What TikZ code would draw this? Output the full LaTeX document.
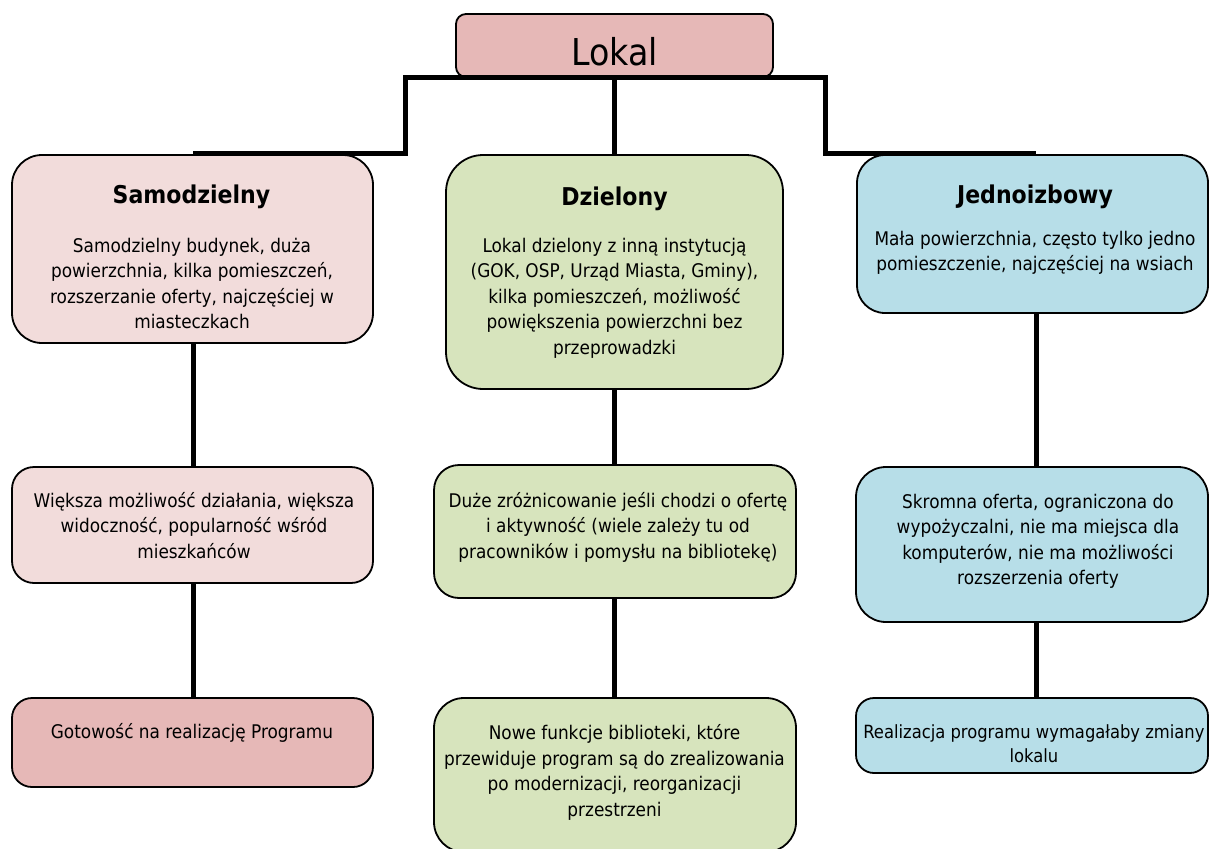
\documentclass[tikz,border=0pt]{standalone}
\usepackage{fontspec}
\setmainfont{DejaVu Sans Condensed}
\usetikzlibrary{calc}
\definecolor{RoseFonce}{HTML}{E6B8B7}
\definecolor{RoseClair}{HTML}{F2DCDB}
\definecolor{VertClair}{HTML}{D7E4BD}
\definecolor{BleuClair}{HTML}{B7DEE8}

\begin{document}
\begin{tikzpicture}[x=1pt,y=-1pt,
    boite/.style={draw=black, line width=1.8pt, inner sep=0pt, outer sep=0pt},
    lien/.style={line width=5pt, line join=miter},
    texte/.style={inner sep=0pt, anchor=north, align=center, font=\fontsize{18.8}{25.5}\selectfont},
    titre/.style={inner sep=0pt, anchor=base, font=\bfseries\fontsize{24.5}{28}\selectfont}]

\useasboundingbox (0,0) rectangle (1209,848);

%colonnes des liens
\coordinate (cS) at (193,0);
\coordinate (cD) at (614.5,0);
\coordinate (cJ) at (1036,0);
\coordinate (bG) at (405,78);
\coordinate (bD) at (825,78);

%début des boîtes
    %sommet
    \node[boite, fill=RoseFonce, rounded corners=10pt, minimum width=317pt, minimum height=63pt] (L) at (614.5,45.5) {};
    %premier niveau
    \node[boite, fill=RoseClair, rounded corners=30pt, minimum width=361pt, minimum height=188pt] (S) at (192.5,249) {};
    \node[boite, fill=VertClair, rounded corners=37pt, minimum width=337pt, minimum height=234pt] (D) at (614.5,272) {};
    \node[boite, fill=BleuClair, rounded corners=28pt, minimum width=351pt, minimum height=158pt] (J) at (1032.5,234) {};
    %deuxième niveau
    \node[boite, fill=RoseClair, rounded corners=22pt, minimum width=361pt, minimum height=116pt] (S2) at (192.5,525) {};
    \node[boite, fill=VertClair, rounded corners=25pt, minimum width=362pt, minimum height=133pt] (D2) at (615,531.5) {};
    \node[boite, fill=BleuClair, rounded corners=30pt, minimum width=352pt, minimum height=155pt] (J2) at (1032,544.5) {};
    %troisième niveau
    \node[boite, fill=RoseFonce, rounded corners=20pt, minimum width=361pt, minimum height=89pt] (S3) at (192.5,742.5) {};
    \node[boite, fill=VertClair, rounded corners=30pt, minimum width=362pt, minimum height=154pt] (D3) at (615,775) {};
    \node[boite, fill=BleuClair, rounded corners=18pt, minimum width=352pt, minimum height=75pt] (J3) at (1032,735.5) {};
%fin des boîtes

%début des liens
    \draw[lien] ($(S.north -| cS)+(0,-2)$) -| (bG) -- (bD) |- ($(J.north -| cJ)+(0,-2)$);
    \draw[lien] (L.south -| cD) -- (D.north -| cD);
    \draw[lien] (S.south -| cS) -- (S2.north -| cS);
    \draw[lien] (S2.south -| cS) -- (S3.north -| cS);
    \draw[lien] (D.south -| cD) -- (D2.north -| cD);
    \draw[lien] (D2.south -| cD) -- (D3.north -| cD);
    \draw[lien] (J.south -| cJ) -- (J2.north -| cJ);
    \draw[lien] (J2.south -| cJ) -- (J3.north -| cJ);
%fin des liens

%début des textes
    \node[inner sep=0pt, anchor=base, font=\fontsize{37}{44}\selectfont] (tL) at (614.5,66) {Lokal};
    \node[titre] (tS) at (191.5,203) {Samodzielny};
    \node[titre] (tD) at (614.5,205) {Dzielony};
    \node[titre] (tJ) at (1035,203) {Jednoizbowy};
    \node[texte] (tS1) at (192,237.7) {Samodzielny budynek, duża\\powierzchnia, kilka pomieszczeń,\\rozszerzanie oferty, najczęściej w\\miasteczkach};
    \node[texte] (tD1) at (614.5,237.7) {Lokal dzielony z inną instytucją\\(GOK, OSP, Urząd Miasta, Gminy),\\kilka pomieszczeń, możliwość\\powiększenia powierzchni bez\\przeprowadzki};
    \node[texte] (tJ1) at (1035,230.7) {Mała powierzchnia, często tylko jedno\\pomieszczenie, najczęściej na wsiach};
    \node[texte] (tS2) at (194,491.7) {Większa możliwość działania, większa\\widoczność, popularność wśród\\mieszkańców};
    \node[texte] (tD2) at (618,491.7) {Duże zróżnicowanie jeśli chodzi o ofertę\\i aktywność (wiele zależy tu od\\pracowników i pomysłu na bibliotekę)};
    \node[texte] (tJ2) at (1038,493.7) {Skromna oferta, ograniczona do\\wypożyczalni, nie ma miejsca dla\\komputerów, nie ma możliwości\\rozszerzenia oferty};
    \node[texte] (tS3) at (192,722.7) {Gotowość na realizację Programu};
    \node[texte] (tD3) at (614.5,724.7) {Nowe funkcje biblioteki, które\\przewiduje program są do zrealizowania\\po modernizacji, reorganizacji\\przestrzeni};
    \node[texte, font=\fontsize{18.2}{24}\selectfont] (tJ3) at (1034,724) {Realizacja programu wymagałaby zmiany\\lokalu};
%fin des textes

\end{tikzpicture}
\end{document}
